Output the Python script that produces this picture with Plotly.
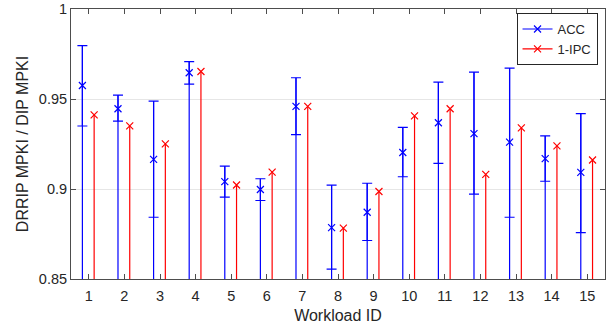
import plotly.graph_objects as go

workloads = list(range(1, 16))
acc_val = [0.9575, 0.9446, 0.9165, 0.9646, 0.9041, 0.8997, 0.9459, 0.8785, 0.8871, 0.9203, 0.9368, 0.9308, 0.9260, 0.9169, 0.9092]
acc_upper = [0.9797, 0.9521, 0.9488, 0.9708, 0.9127, 0.9057, 0.9618, 0.9021, 0.9032, 0.9342, 0.9594, 0.9649, 0.9671, 0.9295, 0.9419]
acc_lower = [0.9350, 0.9377, 0.8843, 0.9583, 0.8955, 0.8936, 0.9302, 0.8555, 0.8714, 0.9068, 0.9142, 0.8971, 0.8843, 0.9043, 0.8758]
ipc_val = [0.9412, 0.9351, 0.9251, 0.9653, 0.9022, 0.9094, 0.9459, 0.8783, 0.8986, 0.9406, 0.9446, 0.9081, 0.9340, 0.9240, 0.9161]
y_ticks = [0.85, 0.9, 0.95, 1.0]
y_tick_text = ["0.85", "0.9", "0.95", "1"]

y_min, y_max = 0.85, 1.0
blue = "#0000FF"
red = "#FF0000"
off_acc, off_ipc = -0.18, 0.15

xa = [w + off_acc for w in workloads]
xi = [w + off_ipc for w in workloads]

def stems(xs, tops):
    sx, sy = [], []
    for x, t in zip(xs, tops):
        sx += [x, x, None]
        sy += [y_min, t, None]
    return sx, sy

fig = go.Figure()
sx, sy = stems(xa, acc_upper)
fig.add_trace(go.Scatter(x=sx, y=sy, mode="lines", line=dict(color=blue, width=1.2),
                         showlegend=False, hoverinfo="skip"))
sx, sy = stems(xi, ipc_val)
fig.add_trace(go.Scatter(x=sx, y=sy, mode="lines", line=dict(color=red, width=1.2),
                         showlegend=False, hoverinfo="skip"))

fig.add_trace(go.Scatter(
    x=xa, y=acc_val, mode="markers",
    marker=dict(symbol="x-thin", size=7, line=dict(color=blue, width=1.2), color=blue),
    error_y=dict(type="data", symmetric=False,
                 array=[u - v for u, v in zip(acc_upper, acc_val)],
                 arrayminus=[v - l for v, l in zip(acc_val, acc_lower)],
                 color=blue, thickness=1.2, width=5),
    showlegend=False))
fig.add_trace(go.Scatter(
    x=xi, y=ipc_val, mode="markers",
    marker=dict(symbol="x-thin", size=7, line=dict(color=red, width=1.2), color=red),
    showlegend=False))

# legend entries
fig.add_trace(go.Scatter(x=[None], y=[None], mode="lines+markers", name="ACC",
                         line=dict(color=blue, width=1.2),
                         marker=dict(symbol="x-thin", size=7, line=dict(color=blue, width=1.2))))
fig.add_trace(go.Scatter(x=[None], y=[None], mode="lines+markers", name="1-IPC",
                         line=dict(color=red, width=1.2),
                         marker=dict(symbol="x-thin", size=7, line=dict(color=red, width=1.2))))

axis_col = "#4d4d4d"
fig.update_layout(
    width=615, height=331,
    margin=dict(l=71, r=10, t=9, b=52, autoexpand=False),
    paper_bgcolor="white", plot_bgcolor="white",
    font=dict(family="Liberation Sans, Arial, sans-serif", size=14.5, color="#262626"),
    legend=dict(x=0.986, y=0.985, xanchor="right", yanchor="top",
                bordercolor="#262626", borderwidth=1, bgcolor="white",
                font=dict(size=13), tracegroupgap=0, itemwidth=30),
    xaxis=dict(range=[0.5, 15.5], tickmode="array", tickvals=workloads,
               ticktext=[str(w) for w in workloads], automargin=False,
               ticks="inside", ticklen=5, tickcolor=axis_col, showline=True,
               linecolor=axis_col, linewidth=1, mirror="ticks", showgrid=False,
               zeroline=False, ticklabelstandoff=4,
               title=dict(text="Workload ID", font=dict(size=16), standoff=6)),
    yaxis=dict(range=[y_min, y_max], tickmode="array", automargin=False,
               tickvals=y_ticks, ticktext=y_tick_text, ticklabeloverflow="allow",
               ticks="inside", ticklen=5, tickcolor=axis_col, showline=True,
               linecolor=axis_col, linewidth=1, mirror="ticks",
               showgrid=True, gridcolor="#e6e6e6", gridwidth=1, zeroline=False,
               title=dict(text="DRRIP MPKI / DIP MPKI", font=dict(size=16), standoff=6)),
)

fig.write_html("out.html", config={"displayModeBar": False},
               post_script="document.body.style.margin='0';document.body.style.overflow='hidden';")
